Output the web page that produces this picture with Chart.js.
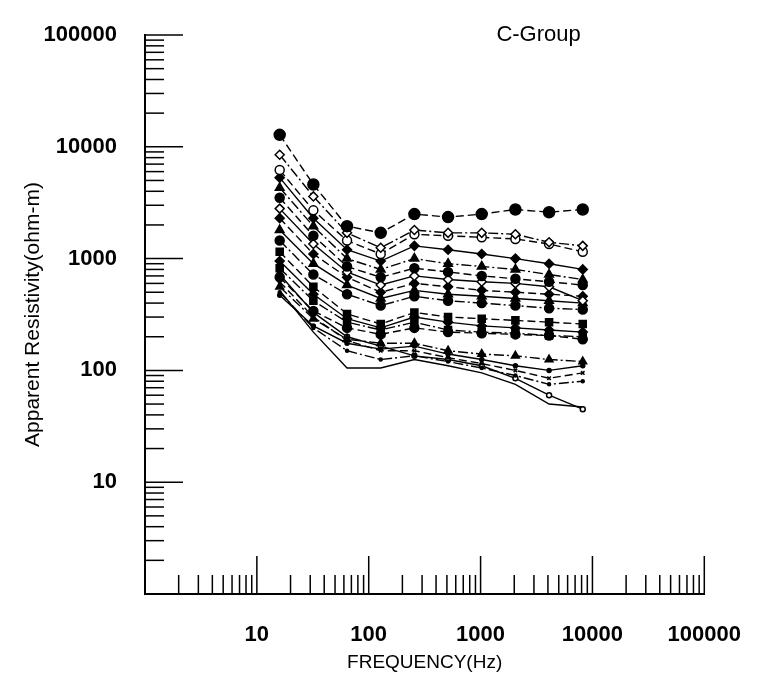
<!DOCTYPE html>
<html>
<head>
<meta charset="utf-8">
<title>C-Group</title>
<script src="https://cdn.jsdelivr.net/npm/chart.js@4.4.1/dist/chart.umd.min.js"></script>
<style>
  html, body { margin: 0; padding: 0; background: #fff; }
  #wrap { width: 761px; height: 682px; }
</style>
</head>
<body>
<div id="wrap"><canvas id="rhoChart"></canvas></div>
<script>
// sounding frequencies (Hz)
const freqs = [16, 32, 64, 128, 256, 512, 1024, 2048, 4096, 8192];

// apparent resistivity per station (ohm-m)
const c01 = [12800, 4600, 1950, 1700, 2500, 2350, 2500, 2750, 2600, 2750];
const c02 = [8500, 3600, 1700, 1250, 1800, 1700, 1700, 1650, 1400, 1300];
const c03 = [6200, 2700, 1450, 1100, 1650, 1600, 1550, 1500, 1350, 1150];
const c04 = [5300, 2300, 1200, 950, 1300, 1200, 1100, 1000, 900, 800];
const c05 = [4300, 1950, 1000, 800, 1000, 900, 850, 800, 720, 650];
const c06 = [3500, 1600, 850, 680, 820, 760, 700, 660, 620, 580];
const c07 = [2800, 1350, 760, 580, 700, 650, 620, 600, 560, 420];
const c08 = [2300, 1100, 680, 500, 600, 560, 520, 500, 480, 460];
const c09 = [1800, 900, 580, 440, 520, 480, 460, 440, 420, 400];
const c10 = [1450, 720, 480, 380, 460, 420, 400, 380, 360, 350];
const c11 = [1150, 560, 320, 260, 330, 300, 290, 280, 270, 260];
const c12 = [950, 480, 290, 240, 300, 270, 250, 240, 230, 220];
const c13 = [820, 420, 270, 230, 270, 230, 220, 215, 205, 200];
const c14 = [680, 340, 240, 210, 240, 220, 215, 210, 205, 190];
const c15 = [560, 290, 190, 175, 175, 150, 140, 135, 125, 120];
const c16 = [470, 250, 175, 155, 165, 140, 125, 110, 100, 110];
const c17 = [620, 300, 185, 150, 150, 130, 115, 100, 85, 95];
const c18 = [500, 240, 150, 125, 135, 120, 105, 90, 75, 80];
const c19 = [720, 330, 200, 165, 135, 125, 110, 85, 60, 45];
const c20 = [520, 220, 105, 105, 125, 110, 95, 75, 50, 47];

const xTickLabels = [10, 100, 1000, 10000, 100000];
const yTickLabels = [10, 100, 1000, 10000, 100000];
const groupName = "C-Group";

const DASH = [8, 4], DOT = [10, 3, 2, 3], SOLID = [];

// station, marker, filled?, marker radius, line dash
const stations = [
  [c01, 'circle', true, 5.5, DASH],
  [c02, 'rectRot', false, 4.5, DOT],
  [c03, 'circle', false, 4.5, DASH],
  [c04, 'rectRot', true, 4.5, SOLID],
  [c05, 'triangle', true, 5, DOT],
  [c06, 'circle', true, 4.5, DASH],
  [c07, 'rectRot', false, 4.5, SOLID],
  [c08, 'rectRot', true, 4.5, DASH],
  [c09, 'triangle', true, 5, SOLID],
  [c10, 'circle', true, 4.5, DOT],
  [c11, 'rect', true, 5, DASH],
  [c12, 'rectRot', true, 4.5, SOLID],
  [c13, 'rect', true, 5, DOT],
  [c14, 'circle', true, 4.5, DASH],
  [c15, 'triangle', true, 4.5, DOT],
  [c16, 'circle', true, 2, SOLID],
  [c17, 'crossRot', false, 2.5, DASH],
  [c18, 'circle', true, 1.5, DOT],
  [c19, 'circle', false, 2.5, SOLID],
  [c20, 'circle', true, 0, SOLID]
];

const datasets = stations.map(([vals, style, filled, r, dash]) => ({
  data: freqs.map((f, i) => ({ x: f, y: vals[i] })),
  showLine: true,
  borderColor: '#000',
  borderWidth: 1.4,
  borderDash: dash,
  pointStyle: style,
  pointRadius: r,
  pointBackgroundColor: filled ? '#000' : '#fff',
  pointBorderColor: '#000',
  pointBorderWidth: 1.5
}));

const isDecade = v => Math.abs(Math.log10(v) - Math.round(Math.log10(v))) < 1e-9;

// inward log ticks on both axes plus the group name
const logTicks = {
  id: 'logTicks',
  afterDraw(chart) {
    const { ctx, chartArea, scales: { x, y } } = chart;
    ctx.save();
    ctx.strokeStyle = '#000';
    ctx.lineWidth = 1.5;
    for (let e = 0; e <= 5; e++) {
      for (let m = 1; m <= 9; m++) {
        if (e === 5 && m > 1) break;
        if (e === 0 && m === 1) continue;
        const v = m * Math.pow(10, e);
        const len = m === 1 ? 38 : 19;
        const px = x.getPixelForValue(v);
        ctx.beginPath();
        ctx.moveTo(px, chartArea.bottom);
        ctx.lineTo(px, chartArea.bottom - len);
        ctx.stroke();
        const py = y.getPixelForValue(v);
        ctx.beginPath();
        ctx.moveTo(chartArea.left, py);
        ctx.lineTo(chartArea.left + len, py);
        ctx.stroke();
      }
    }
    ctx.fillStyle = '#000';
    ctx.font = '22px "Liberation Sans", Arial, sans-serif';
    ctx.textAlign = 'center';
    ctx.textBaseline = 'middle';
    ctx.fillText(groupName, x.getPixelForValue(3300), chartArea.top);
    ctx.restore();
  }
};

const tickFont = { family: '"Liberation Sans", Arial, sans-serif', size: 22, weight: 'bold' };

new Chart(document.getElementById('rhoChart'), {
  type: 'scatter',
  data: { datasets },
  options: {
    responsive: true,
    maintainAspectRatio: false,
    animation: false,
    layout: { padding: { top: 35, right: 41, left: 0, bottom: 0 } },
    plugins: {
      legend: { display: false },
      tooltip: { enabled: false }
    },
    scales: {
      x: {
        type: 'logarithmic',
        min: 1,
        max: 100000,
        grid: { display: false },
        border: { display: true, color: '#000', width: 2 },
        ticks: {
          autoSkip: false,
          maxRotation: 0,
          padding: 20,
          color: '#000',
          font: tickFont,
          callback: v => (isDecade(v) && xTickLabels.includes(Math.round(v))) ? String(Math.round(v)) : ''
        },
        title: {
          display: true,
          text: 'FREQUENCY(Hz)',
          color: '#000',
          font: { family: '"Liberation Sans", Arial, sans-serif', size: 19 },
          padding: { top: 0, bottom: 8 }
        },
        afterFit: s => { s.height = 88; }
      },
      y: {
        type: 'logarithmic',
        min: 1,
        max: 100000,
        grid: { display: false },
        border: { display: true, color: '#000', width: 2 },
        ticks: {
          autoSkip: false,
          padding: 20,
          color: '#000',
          font: tickFont,
          callback: v => (isDecade(v) && yTickLabels.includes(Math.round(v))) ? String(Math.round(v)) : ''
        },
        title: {
          display: true,
          text: 'Apparent Resistivity(ohm-m)',
          color: '#000',
          font: { family: '"Liberation Sans", Arial, sans-serif', size: 21 },
          padding: { top: 21, bottom: 0 }
        },
        afterFit: s => { s.width = 145; }
      }
    }
  },
  plugins: [logTicks]
});
</script>
</body>
</html>
